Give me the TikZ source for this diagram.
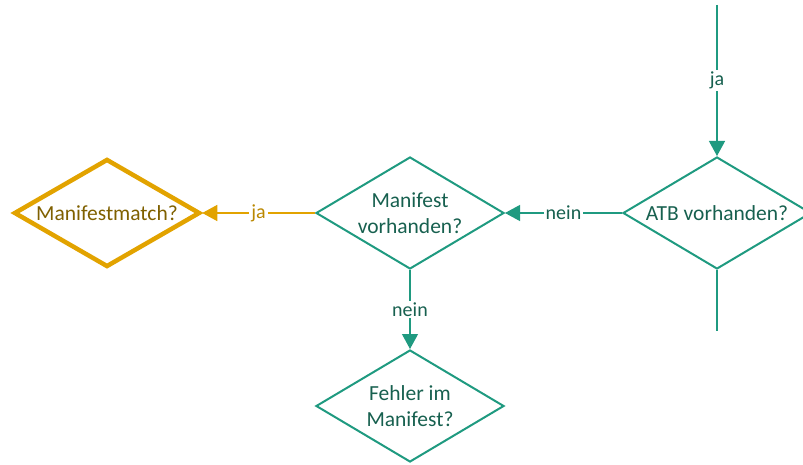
\documentclass[tikz,border=0pt]{standalone}
\usepackage{fontspec}
\setmainfont{Carlito}
\usetikzlibrary{shapes.geometric,arrows.meta}
\definecolor{teal1}{HTML}{1F9A80}
\definecolor{tealtext}{HTML}{17604F}
\definecolor{orange1}{HTML}{E2A300}
\definecolor{orangetext}{HTML}{7F6000}
\tikzset{
  dec/.style={diamond, draw=teal1, line width=2pt, minimum width=188pt, minimum height=112pt, inner sep=0pt},
  dectext/.style={align=center, text=tealtext, font=\fontsize{21.5}{26}\selectfont},
  decorange/.style={dec, draw=orange1, line width=4.5pt, minimum width=186pt, minimum height=108pt},
  dectextorange/.style={dectext, text=orangetext},
  conn/.style={draw=teal1, line width=1.2pt},
  connarrow/.style={conn, -{Triangle[length=15pt,width=16pt]}},
  connorange/.style={draw=orange1, line width=1.3pt, -{Triangle[length=15pt,width=16pt]}},
  lbl/.style={fill=white, inner sep=2pt, text=tealtext, font=\fontsize{20}{22}\selectfont},
  lblorange/.style={lbl, text=orange1!60!orangetext}
}
\begin{document}
\begin{tikzpicture}[x=1pt,y=1pt]
\useasboundingbox (0,0) rectangle (803,464);
\node[dec, label={[dectext]center:ATB vorhanden?}] (atb) at (717,251) {};
\node[dec, label={[dectext]center:Manifest\\vorhanden?}] (man) at (410,251) {};
\node[decorange, label={[dectextorange]center:Manifestmatch?}] (match) at (107,251) {};
\node[dec, label={[dectext]center:Fehler im\\Manifest?}] (fehler) at (410,58) {};
\coordinate (top) at (717,459);
\coordinate (bot) at (717,133);
\draw[connarrow] (top) -- node[lbl] {ja} (atb.north);
\draw[conn] (atb.south) -- (bot);
\draw[connarrow] (atb.west) -- node[lbl] {nein} (man.east);
\draw[connorange] (man.west) -- node[lblorange] {ja} (match.east);
\draw[connarrow] (man.south) -- node[lbl] {nein} (fehler.north);
\end{tikzpicture}
\end{document}
